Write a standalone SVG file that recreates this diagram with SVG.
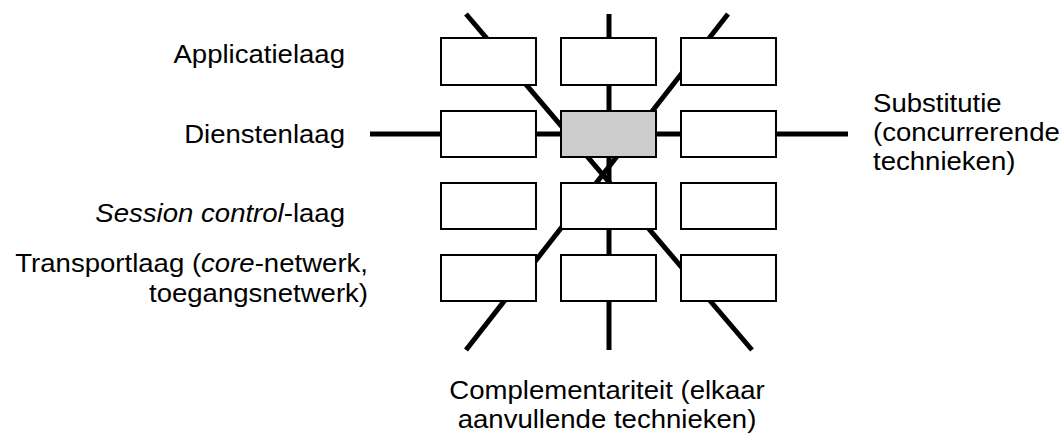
<svg xmlns="http://www.w3.org/2000/svg" width="1064" height="434" viewBox="0 0 1064 434">
<style>
.bg{fill:#fff}
.conn line{stroke:#000;stroke-width:5;stroke-linecap:butt;fill:none}
.box{fill:#fff;stroke:#000;stroke-width:2}
.hl{fill:#ccc;stroke:#000;stroke-width:2}
text{font-family:"Liberation Sans",Arial,Helvetica,sans-serif;font-size:26px;fill:#000}
.end{text-anchor:end}
.mid{text-anchor:middle}
.it{font-style:italic}
</style>
<rect class="bg" x="0" y="0" width="1064" height="434"/>
<g id="connectors" class="conn">
<line x1="370" y1="134" x2="848" y2="134"/>
<line x1="609" y1="14" x2="609" y2="350"/>
<line x1="466" y1="14" x2="752" y2="350"/>
<line x1="728" y1="14" x2="466" y2="350"/>
</g>
<g id="node-r1c1"><rect class="box" x="441" y="38" width="95" height="47"/></g>
<g id="node-r1c2"><rect class="box" x="561" y="38" width="95" height="47"/></g>
<g id="node-r1c3"><rect class="box" x="681" y="38" width="95" height="47"/></g>
<g id="node-r2c1"><rect class="box" x="441" y="111" width="95" height="46"/></g>
<g id="node-r2c2"><rect class="hl" x="561" y="111" width="95" height="46"/></g>
<g id="node-r2c3"><rect class="box" x="681" y="111" width="95" height="46"/></g>
<g id="node-r3c1"><rect class="box" x="441" y="183" width="95" height="46"/></g>
<g id="node-r3c2"><rect class="box" x="561" y="183" width="95" height="46"/></g>
<g id="node-r3c3"><rect class="box" x="681" y="183" width="95" height="46"/></g>
<g id="node-r4c1"><rect class="box" x="441" y="255" width="95" height="46"/></g>
<g id="node-r4c2"><rect class="box" x="561" y="255" width="95" height="46"/></g>
<g id="node-r4c3"><rect class="box" x="681" y="255" width="95" height="46"/></g>
<g id="labels">
<text class="end" transform="translate(345,63) scale(1.06,1)">Applicatielaag</text>
<text class="end" transform="translate(345,143) scale(1.06,1)">Dienstenlaag</text>
<text class="end" transform="translate(345,222) scale(1.06,1)"><tspan class="it">Session control</tspan>-laag</text>
<text class="end" transform="translate(368,272) scale(1.06,1)">Transportlaag (<tspan class="it">core</tspan>-netwerk,</text>
<text class="end" transform="translate(368,302) scale(1.06,1)">toegangsnetwerk)</text>
<text transform="translate(873,112) scale(1.06,1)">Substitutie</text>
<text transform="translate(873,141) scale(1.06,1)">(concurrerende</text>
<text transform="translate(873,170) scale(1.06,1)">technieken)</text>
<text class="mid" transform="translate(607,399) scale(1.06,1)">Complementariteit (elkaar</text>
<text class="mid" transform="translate(607,428) scale(1.06,1)">aanvullende technieken)</text>
</g>
</svg>
